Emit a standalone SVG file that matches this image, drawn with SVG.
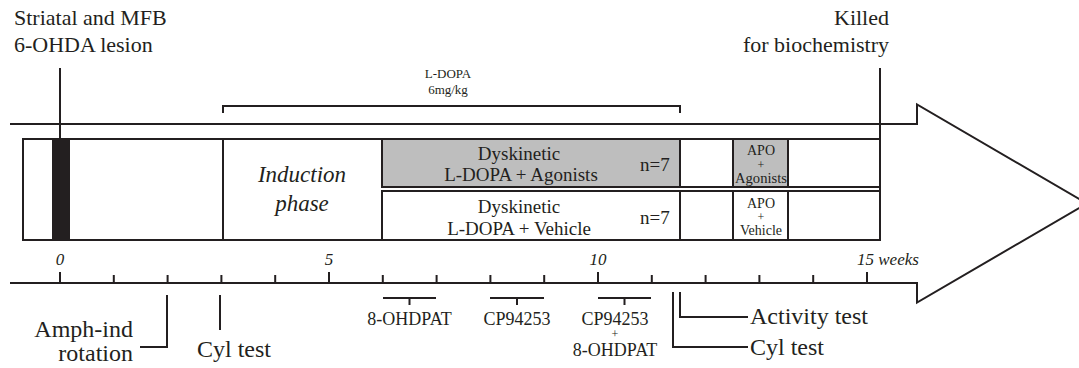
<svg xmlns="http://www.w3.org/2000/svg" width="1079" height="368" viewBox="0 0 1079 368">
<style>
text{font-family:'Liberation Serif','Times New Roman',Times,serif;fill:#231f20}
.ln{stroke:#231f20;stroke-width:2;fill:none}
.bx{stroke:#231f20;stroke-width:2}
.it{font-style:italic}
.c{text-anchor:middle}
</style>
<rect width="1079" height="368" fill="#fff"/>
<g id="arrow">
<path class="ln" d="M10,124 H917 V104.5 L1087,203.5 L917,302.5 V283 H10"/>
</g>
<g id="timeline-box">
<rect class="bx" x="23" y="139" width="857" height="101" fill="#fff"/>
<rect x="52" y="139" width="18" height="101" fill="#231f20"/>
<line class="ln" x1="223" y1="139" x2="223" y2="240"/>
</g>
<g id="induction">
<text class="it c" x="302" y="182" font-size="23">Induction</text>
<text class="it c" x="302" y="211" font-size="23">phase</text>
</g>
<g id="agonists-group">
<rect class="bx" x="382" y="139" width="298" height="48" fill="#bebebe"/>
<text class="c" x="519" y="160" font-size="19">Dyskinetic</text>
<text class="c" x="521" y="181" font-size="19">L-DOPA + Agonists</text>
<text x="640" y="171" font-size="19">n=7</text>
</g>
<g id="vehicle-group">
<rect class="bx" x="382" y="191" width="298" height="49" fill="#fff"/>
<text class="c" x="519" y="213" font-size="19">Dyskinetic</text>
<text class="c" x="519" y="235" font-size="19">L-DOPA + Vehicle</text>
<text x="640" y="224" font-size="19">n=7</text>
</g>
<g id="post-box">
<line class="ln" x1="382" y1="187" x2="880" y2="187"/>
<line class="ln" x1="382" y1="191" x2="880" y2="191"/>
</g>
<g id="apo-agonists">
<rect class="bx" x="733" y="139" width="55" height="48" fill="#bebebe"/>
<text class="c" x="761" y="155" font-size="14">APO</text>
<text class="c" x="761" y="169" font-size="12">+</text>
<text class="c" x="761" y="183" font-size="14" textLength="52" lengthAdjust="spacingAndGlyphs">Agonists</text>
</g>
<g id="apo-vehicle">
<rect class="bx" x="733" y="191" width="55" height="49" fill="#fff"/>
<text class="c" x="761" y="208" font-size="14">APO</text>
<text class="c" x="761" y="221" font-size="12">+</text>
<text class="c" x="761" y="235" font-size="14">Vehicle</text>
</g>
<g id="lesion">
<line class="ln" x1="60" y1="68" x2="60" y2="139"/>
<text x="14" y="25" font-size="22">Striatal and MFB</text>
<text x="14" y="52" font-size="22">6-OHDA lesion</text>
</g>
<g id="killed">
<line class="ln" x1="880" y1="68" x2="880" y2="240"/>
<text x="889" y="25" font-size="22" text-anchor="end">Killed</text>
<text x="889" y="52" font-size="22" text-anchor="end">for biochemistry</text>
</g>
<g id="ldopa">
<path class="ln" d="M223,113 V106 H680 V113"/>
<text class="c" x="448" y="78" font-size="13">L-DOPA</text>
<text class="c" x="448" y="94" font-size="13">6mg/kg</text>
</g>
<g id="scale">
<path class="ln" d="M60,272V283 M113.8,275V283 M167.6,275V283 M221.4,275V283 M275.2,275V283 M329,272V283 M382.8,275V283 M436.6,275V283 M490.4,275V283 M544.2,275V283 M598,272V283 M651.8,275V283 M705.6,275V283 M759.4,275V283 M813.2,275V283 M867,272V283"/>
<text class="it c" x="60" y="265" font-size="17">0</text>
<text class="it c" x="329" y="265" font-size="17">5</text>
<text class="it c" x="598" y="265" font-size="17">10</text>
<text class="it" x="857" y="265" font-size="17">15 weeks</text>
</g>
<g id="connectors">
<path class="ln" d="M167,295 V347 H140"/>
<line class="ln" x1="220" y1="295" x2="220" y2="330"/>
<path class="ln" d="M383,298 H436 M409.5,298 V305"/>
<path class="ln" d="M490,298 H544 M517,298 V305"/>
<path class="ln" d="M598,298 H651 M624.5,298 V305"/>
<path class="ln" d="M673,292 V347 H748"/>
<path class="ln" d="M680,292 V317 H748"/>
</g>
<g id="bottom-labels">
<text x="133" y="337" font-size="24" text-anchor="end">Amph-ind</text>
<text x="133" y="361" font-size="24" text-anchor="end">rotation</text>
<text x="197" y="357" font-size="24">Cyl test</text>
<text class="c" x="409.5" y="325" font-size="18">8-OHDPAT</text>
<text class="c" x="517" y="325" font-size="18">CP94253</text>
<text class="c" x="615" y="325" font-size="18">CP94253</text>
<text class="c" x="615" y="338" font-size="12">+</text>
<text class="c" x="615" y="356" font-size="18">8-OHDPAT</text>
<text x="750" y="324" font-size="24">Activity test</text>
<text x="750" y="355" font-size="24">Cyl test</text>
</g>
</svg>
